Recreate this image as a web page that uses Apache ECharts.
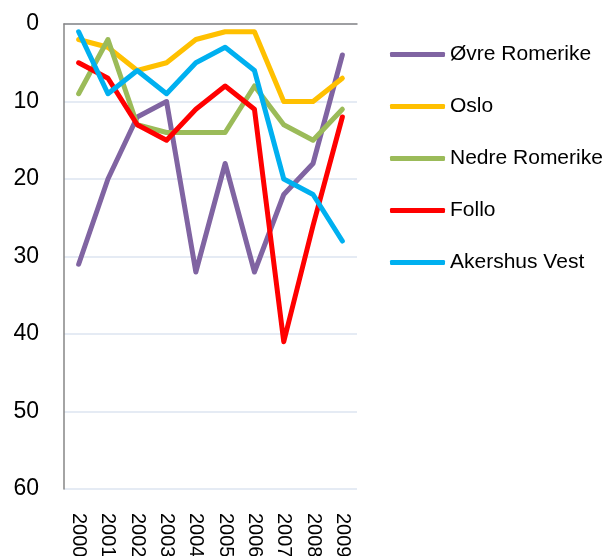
<!DOCTYPE html>
<html>
<head>
<meta charset="utf-8">
<script src="https://cdn.jsdelivr.net/npm/echarts@6/dist/echarts.min.js"></script>
<style>
  html, body { margin: 0; padding: 0; background: #fff; }
</style>
</head>
<body>
<div id="main" style="width:606px;height:556px;"></div>
<script>
var years = ['2000', '2001', '2002', '2003', '2004', '2005', '2006', '2007', '2008', '2009'];
var ovreRomerike = [31, 20, 12, 10, 32, 18, 32, 22, 18, 4];
var oslo = [2, 3, 6, 5, 2, 1, 1, 10, 10, 7];
var nedreRomerike = [9, 2, 13, 14, 14, 14, 8, 13, 15, 11];
var follo = [5, 7, 13, 15, 11, 8, 11, 41, 26, 12];
var akershusVest = [1, 9, 6, 9, 5, 3, 6, 20, 22, 28];

var names = ['Øvre Romerike', 'Oslo', 'Nedre Romerike', 'Follo', 'Akershus Vest'];
var colors = ['#8064a2', '#ffc000', '#9bbb59', '#ff0000', '#00b0f0'];
var values = [ovreRomerike, oslo, nedreRomerike, follo, akershusVest];

var myChart = echarts.init(document.getElementById('main'));

var series = [];
for (var i = 0; i < names.length; i++) {
    series.push({
        name: names[i],
        type: 'line',
        data: values[i],
        symbol: 'none',
        color: colors[i],
        lineStyle: { width: 5, color: colors[i], cap: 'round', join: 'round' }
    });
}

var option = {
    animation: false,
    grid: { left: 64, top: 24, width: 293, height: 465, containLabel: false, outerBoundsMode: 'none' },
    legend: {
        orient: 'vertical',
        left: 390,
        top: 44,
        padding: 0,
        itemGap: 31,
        itemWidth: 55,
        itemHeight: 5,
        icon: 'roundRect',
        textStyle: { fontFamily: 'Liberation Sans', fontSize: 21, color: '#000' },
        data: names
    },
    xAxis: [
        {
            type: 'category',
            data: years,
            position: 'bottom',
            boundaryGap: true,
            axisLine: { show: false },
            axisTick: { show: false },
            axisLabel: {
                rotate: -90,
                margin: 24,
                fontFamily: 'Liberation Sans',
                fontSize: 20,
                color: '#000'
            }
        },
        {
            type: 'category',
            data: years,
            position: 'top',
            axisLine: { show: true, lineStyle: { color: '#868686', width: 1.5 } },
            axisTick: { show: false },
            axisLabel: { show: false }
        }
    ],
    yAxis: {
        type: 'value',
        inverse: true,
        min: 0,
        max: 60,
        interval: 10,
        axisLine: { show: true, lineStyle: { color: '#868686', width: 1.5 } },
        axisTick: { show: false },
        axisLabel: {
            margin: 25,
            fontFamily: 'Liberation Sans',
            fontSize: 23,
            color: '#000'
        },
        splitLine: { lineStyle: { color: '#dce4f0', width: 1.5 } }
    },
    series: series
};

myChart.setOption(option);
</script>
</body>
</html>
